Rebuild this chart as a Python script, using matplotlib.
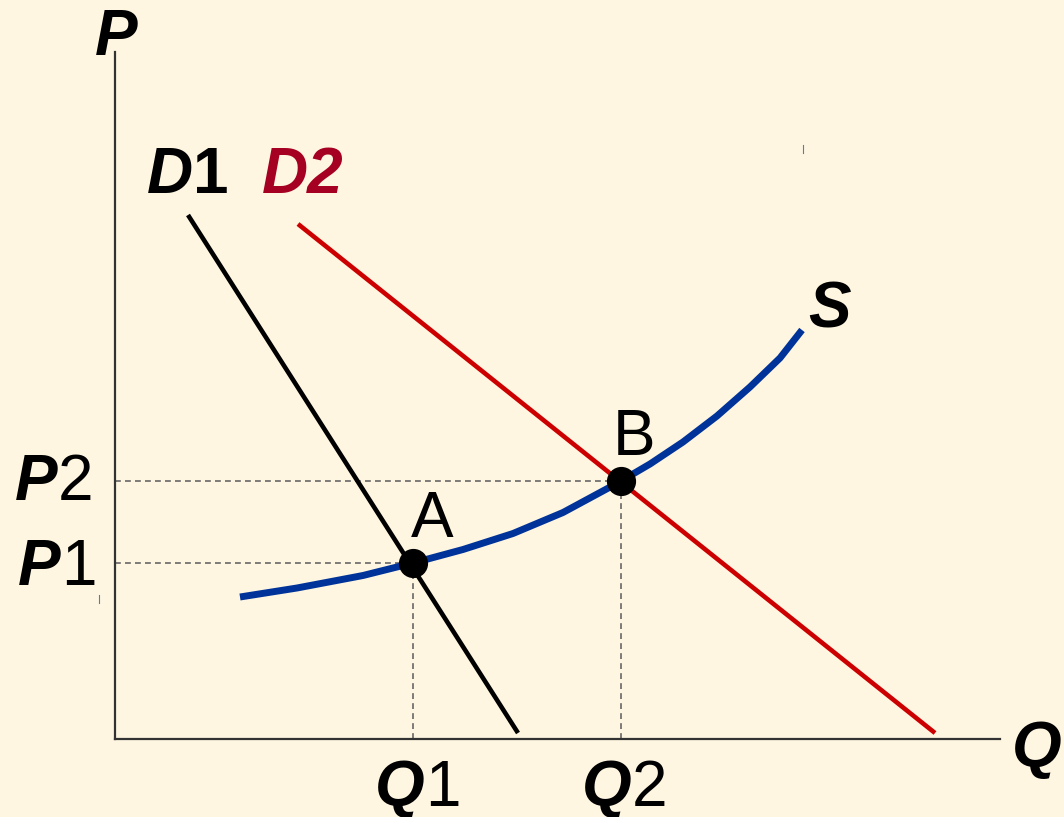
import matplotlib.pyplot as plt

plt.rcParams['font.family'] = ['Liberation Sans', 'DejaVu Sans']

# demand lines (quantity, price) endpoints
d1_q = [0.73, 4.03]
d1_p = [5.24, 0.06]
d2_q = [1.83, 8.20]
d2_p = [5.15, 0.06]

# supply curve
s_q = [1.25, 1.82, 2.48, 2.98, 3.48, 3.98, 4.48, 4.98, 5.06, 5.35, 5.68, 6.02, 6.35, 6.65, 6.87]
s_p = [1.42, 1.51, 1.635, 1.76, 1.895, 2.055, 2.265, 2.535, 2.58, 2.75, 2.97, 3.23, 3.52, 3.81, 4.09]

# equilibrium points
eq_names = ['A', 'B']
eq_q = [2.98, 5.06]
eq_p = [1.76, 2.58]

bg = '#FEF6E1'
blue = '#003399'
red = '#CC0000'
dark_red = '#A50021'
fs = 46

fig = plt.figure(figsize=(10.64, 8.17), dpi=100, facecolor=bg)
ax = fig.add_axes([115 / 1064, 78 / 817, 885 / 1064, 687 / 817])
ax.set_facecolor(bg)
ax.set_xlim(0, 8.85)
ax.set_ylim(0, 6.87)
for side in ['top', 'right']:
    ax.spines[side].set_visible(False)
for side in ['left', 'bottom']:
    ax.spines[side].set_color('#333333')
    ax.spines[side].set_linewidth(1.6)
ax.set_xticks([])
ax.set_yticks([])

# guide lines to the axes
for q, p in zip(eq_q, eq_p):
    ax.plot([0, q], [p, p], color='#666666', lw=1.2, ls=(0, (3.5, 2.5)), zorder=1)
    ax.plot([q, q], [0, p], color='#666666', lw=1.2, ls=(0, (3.5, 2.5)), zorder=1)

ax.plot(d1_q, d1_p, color='black', lw=3.3, solid_capstyle='butt', zorder=2)
ax.plot(d2_q, d2_p, color=red, lw=3.3, solid_capstyle='butt', zorder=2)
ax.plot(s_q, s_p, color=blue, lw=5, solid_capstyle='butt', solid_joinstyle='round', zorder=3)
ax.plot(eq_q, eq_p, 'o', color='black', ms=20, zorder=4)


def label(x, y, parts, color='black'):
    # parts: list of (text, weight, style) drawn side by side
    prev = None
    for txt, weight, style in parts:
        if prev is None:
            prev = ax.text(x, y, txt, fontsize=fs, fontweight=weight, fontstyle=style,
                           color=color, ha='left', va='baseline', clip_on=False)
        else:
            prev = ax.annotate(txt, xy=(1, 0), xycoords=prev, fontsize=fs,
                               fontweight=weight, fontstyle=style, color=color,
                               ha='left', va='bottom', annotation_clip=False)


bi = ('bold', 'italic')
rg = ('normal', 'normal')

label(-0.20, 6.84, [('P',) + bi])
label(8.97, -0.28, [('Q',) + bi])
label(-0.97, 1.54, [('P',) + bi, ('1',) + rg])
label(-1.00, 2.39, [('P',) + bi, ('2',) + rg])
label(2.60, -0.67, [('Q',) + bi, ('1',) + rg])
label(4.67, -0.67, [('Q',) + bi, ('2',) + rg])
label(0.32, 5.46, [('D',) + bi, ('1',) + ('bold', 'normal')])
label(1.47, 5.46, [('D2',) + bi], color=dark_red)
label(6.93, 4.12, [('S',) + bi])

for name, q, p in zip(eq_names, eq_q, eq_p):
    ax.text(q + 0.19 if name == 'A' else q + 0.13, p + 0.26, name, fontsize=fs,
            ha='center', va='baseline')

# small stray marks
ax.plot([6.88, 6.88], [5.94, 5.86], color='#5577CC', lw=0.8, clip_on=False)
ax.plot([-0.16, -0.16], [1.44, 1.36], color='#5577CC', lw=0.8, clip_on=False)

fig.savefig('out.png', dpi=100, facecolor=bg)
